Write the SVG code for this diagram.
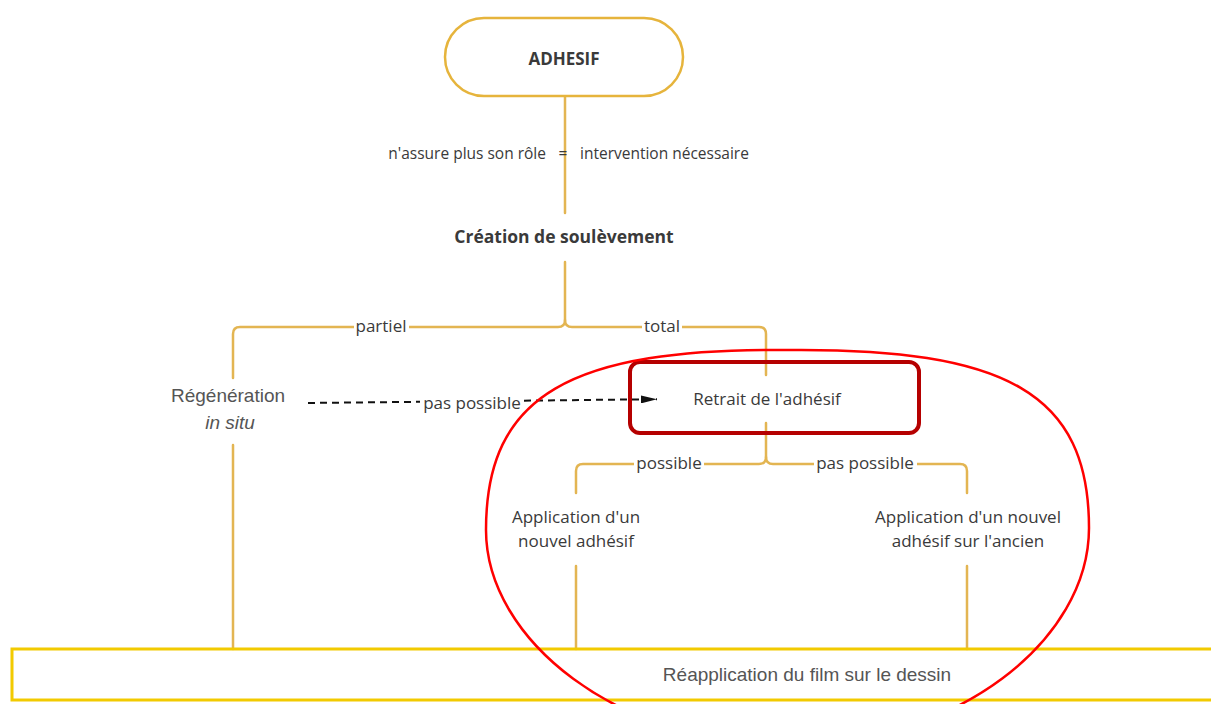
<svg xmlns="http://www.w3.org/2000/svg" width="1211" height="704" viewBox="0 0 1211 704">
<defs>
<style>
.ln{fill:none;stroke:#E3B552;stroke-width:2.5;stroke-linecap:round;stroke-linejoin:round}
.os{font-family:"Open Sans","Noto Sans","Liberation Sans",sans-serif;fill:#3a3a3a}
.lb{font-family:"Open Sans","Noto Sans","Liberation Sans",sans-serif;fill:#3a3a3a;font-size:17px;text-anchor:middle}
.ar{font-family:"Liberation Sans",Arial,sans-serif;fill:#555;font-size:19px;text-anchor:middle}
.bg{fill:#fff}
</style>
<marker id="ah" viewBox="0 0 16 8" refX="16" refY="4" markerWidth="16" markerHeight="8" markerUnits="userSpaceOnUse" orient="auto">
<path d="M0,0 L16,4 L0,8 Z" fill="#111"/>
</marker>
</defs>
<rect width="1211" height="704" fill="#fff"/>

<g id="connectors">
<path class="ln" d="M565,96 V213"/>
<path class="ln" d="M565,262 V320 Q565,327 558,327 H240 Q233,327 233,334 V378"/>
<path class="ln" d="M565,320 Q565,327 572,327 H759 Q766,327 766,334 V375"/>
<path class="ln" d="M766,423 V457 Q766,464 759,464 H583 Q576,464 576,471 V493"/>
<path class="ln" d="M766,457 Q766,464 773,464 H960 Q967,464 967,471 V493"/>
<path class="ln" d="M233,445 V649"/>
<path class="ln" d="M576,566 V649"/>
<path class="ln" d="M967,566 V649"/>
<path d="M308,403 L657,399.2" fill="none" stroke="#111" stroke-width="2" stroke-dasharray="7,5" marker-end="url(#ah)"/>
<rect class="bg" x="354" y="316" width="55" height="22"/>
<rect class="bg" x="642" y="316" width="40" height="22"/>
<rect class="bg" x="634" y="453" width="70" height="22"/>
<rect class="bg" x="814" y="453" width="103" height="22"/>
<rect class="bg" x="420" y="390" width="104" height="24"/>
<text class="os" x="546" y="159" font-size="15.5" text-anchor="end">n'assure plus son rôle</text>
<text class="os" x="563" y="159" font-size="15.5" text-anchor="middle">=</text>
<text class="os" x="580" y="159" font-size="15.5">intervention nécessaire</text>
<text class="lb" x="381" y="332">partiel</text>
<text class="lb" x="662" y="332">total</text>
<text class="lb" x="669" y="469">possible</text>
<text class="lb" x="865" y="469">pas possible</text>
<text class="lb" x="472" y="409">pas possible</text>
</g>

<g id="adhesif">
<rect x="445" y="18" width="238" height="78" rx="39" fill="#fff" stroke="#E6B43C" stroke-width="2.5"/>
<text class="os" x="564" y="65" font-size="17" font-weight="700" text-anchor="middle" fill="#2a2a2a">ADHESIF</text>
</g>

<g id="creation">
<text class="os" x="564" y="243" font-size="17.5" font-weight="700" text-anchor="middle" fill="#2a2a2a">Création de soulèvement</text>
</g>

<g id="regeneration">
<text class="ar" x="228" y="402">Régénération</text>
<text class="ar" x="230" y="429" font-style="italic">in situ</text>
</g>

<g id="retrait">
<text class="lb" x="767" y="405">Retrait de l'adhésif</text>
<rect x="630" y="362" width="289" height="71" rx="10" fill="none" stroke="#B50000" stroke-width="4"/>
</g>

<g id="application-nouvel">
<text class="lb" x="576" y="523">Application d'un</text>
<text class="lb" x="576" y="547">nouvel adhésif</text>
</g>

<g id="application-ancien">
<text class="lb" x="968" y="523">Application d'un nouvel</text>
<text class="lb" x="968" y="547">adhésif sur l'ancien</text>
</g>

<g id="reapplication">
<rect x="12" y="649" width="1212" height="51" fill="none" stroke="#F2CA00" stroke-width="3"/>
<text class="ar" x="807" y="681">Réapplication du film sur le dessin</text>
</g>

<g id="highlight">
<path d="M788,350 C1006,348 1089,393 1089,528 C1089,640 958,745 788,745 C618,745 486,640 486,530 C486,395 570,348 788,350 Z" fill="none" stroke="#F00" stroke-width="2.5"/>
</g>
</svg>
